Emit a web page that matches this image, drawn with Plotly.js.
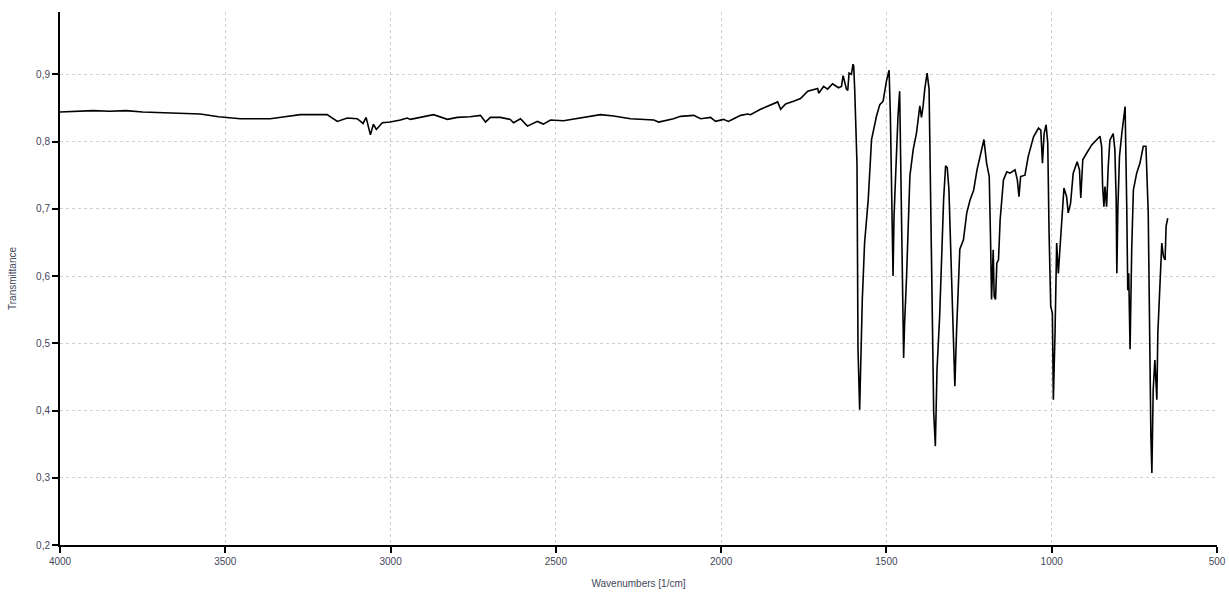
<!DOCTYPE html>
<html>
<head>
<meta charset="utf-8">
<script src="https://cdn.plot.ly/plotly-3.0.1.min.js"></script>
<style>html,body{margin:0;padding:0;background:#fff;}#chart{width:1229px;height:592px;}</style>
</head>
<body>
<div id="chart"></div>
<script>
const wavenumbers = [
4000,3950,3900,3850,3800,3750,3700,3650,3600,3576,3520,3455,3400,3364,3320,3273,3230,3192,3161,3131,3101,3083,3074,3061,3052,3043,3025,3001,2970,2950,2940,2900,2870,2828,2798,2760,2728,2713,2698,2668,2638,2628,2607,2586,2556,2538,2516,2477,2426,2365,2325,2274,2204,2189,2144,2123,2083,2062,2032,2017,1993,1978,1962,1941,1920,1911,1881,1850,1829,1820,1805,1781,1760,1738,1708,1705,1690,1678,1663,1645,1636,1631,1621,1617,1613,1606,1601,1599,1596,1589,1586,1581,1578,1573,1566,1555,1545,1530,1520,1510,1500,1492,1488,1485,1480,1477,1472,1465,1460,1457,1453,1448,1445,1439,1429,1419,1409,1399,1394,1389,1384,1377,1371,1367,1361,1357,1352,1347,1339,1334,1327,1321,1316,1311,1306,1298,1293,1288,1278,1267,1257,1247,1236,1226,1216,1205,1197,1189,1185,1182,1177,1174,1170,1166,1161,1156,1146,1136,1126,1111,1104,1099,1094,1081,1071,1055,1040,1033,1028,1023,1017,1012,1008,1003,998,995,990,985,980,975,970,963,955,950,943,935,923,916,912,906,894,879,854,849,846,842,839,834,829,824,814,809,805,803,800,795,788,778,773,770,767,763,758,753,743,733,723,715,708,703,700,697,693,688,682,679,672,667,662,657,654,649
];
const transmittance = [
0.844,0.845,0.846,0.845,0.846,0.844,0.843,0.843,0.841,0.841,0.837,0.834,0.834,0.834,0.837,0.840,0.840,0.840,0.830,0.835,0.834,0.827,0.836,0.810,0.826,0.818,0.828,0.829,0.832,0.835,0.833,0.837,0.840,0.833,0.836,0.837,0.839,0.829,0.836,0.836,0.833,0.828,0.834,0.823,0.830,0.826,0.832,0.831,0.835,0.840,0.838,0.834,0.832,0.829,0.834,0.8375,0.839,0.834,0.836,0.830,0.833,0.830,0.834,0.839,0.841,0.840,0.848,0.855,0.859,0.848,0.856,0.860,0.864,0.875,0.879,0.872,0.882,0.878,0.886,0.880,0.882,0.898,0.878,0.876,0.902,0.900,0.915,0.912,0.878,0.766,0.491,0.401,0.461,0.565,0.650,0.714,0.803,0.838,0.855,0.860,0.890,0.906,0.838,0.714,0.600,0.689,0.764,0.838,0.875,0.754,0.590,0.478,0.530,0.600,0.749,0.788,0.813,0.853,0.836,0.853,0.878,0.902,0.878,0.739,0.540,0.397,0.347,0.461,0.540,0.620,0.714,0.764,0.761,0.729,0.650,0.540,0.436,0.516,0.640,0.654,0.694,0.713,0.728,0.758,0.778,0.803,0.768,0.748,0.654,0.565,0.639,0.570,0.565,0.619,0.624,0.684,0.743,0.755,0.753,0.758,0.743,0.718,0.748,0.750,0.778,0.807,0.820,0.817,0.768,0.812,0.825,0.798,0.664,0.555,0.545,0.416,0.515,0.649,0.604,0.644,0.684,0.731,0.718,0.694,0.708,0.753,0.770,0.758,0.716,0.773,0.783,0.795,0.808,0.793,0.733,0.703,0.733,0.703,0.763,0.802,0.812,0.788,0.713,0.604,0.698,0.778,0.812,0.852,0.703,0.579,0.604,0.491,0.639,0.728,0.753,0.768,0.793,0.793,0.694,0.441,0.362,0.307,0.431,0.475,0.416,0.515,0.600,0.649,0.629,0.624,0.674,0.686
];
const xTitle = 'Wavenumbers [1/cm]';
const yTitle = 'Transmittance';

const tickFont = {family: 'Liberation Sans, Arial, sans-serif', size: 10, color: '#44475a'};
Plotly.newPlot('chart', [{
  x: wavenumbers, y: transmittance, type: 'scatter', mode: 'lines',
  line: {color: '#000000', width: 1.6}, hoverinfo: 'skip'
}], {
  width: 1229, height: 592,
  margin: {l: 60, r: 12, t: 12, b: 46.5, pad: 0},
  paper_bgcolor: '#ffffff', plot_bgcolor: '#ffffff',
  separators: ',.',
  showlegend: false,
  xaxis: {
    range: [4000, 500], tick0: 500, dtick: 500,
    showline: true, linecolor: '#000', linewidth: 2,
    ticks: 'outside', ticklen: 6, tickwidth: 2, tickcolor: '#000',
    showgrid: true, gridcolor: '#cfcfcf', griddash: 'dot', gridwidth: 1,
    zeroline: false, tickfont: tickFont,
    title: {text: xTitle, font: {family: 'Liberation Sans, Arial, sans-serif', size: 10, color: '#44475a'}, standoff: 14}
  },
  yaxis: {
    range: [0.2, 0.9927], tick0: 0.2, dtick: 0.1, tickformat: '.1f',
    showline: true, linecolor: '#000', linewidth: 2,
    ticks: 'outside', ticklen: 6, tickwidth: 2, tickcolor: '#000',
    showgrid: true, gridcolor: '#cfcfcf', griddash: 'dot', gridwidth: 1,
    zeroline: false, tickfont: tickFont,
    title: {text: yTitle, font: {family: 'Liberation Sans, Arial, sans-serif', size: 10, color: '#44475a'}, standoff: 18}
  }
}, {displayModeBar: false, staticPlot: true});
</script>
</body>
</html>
